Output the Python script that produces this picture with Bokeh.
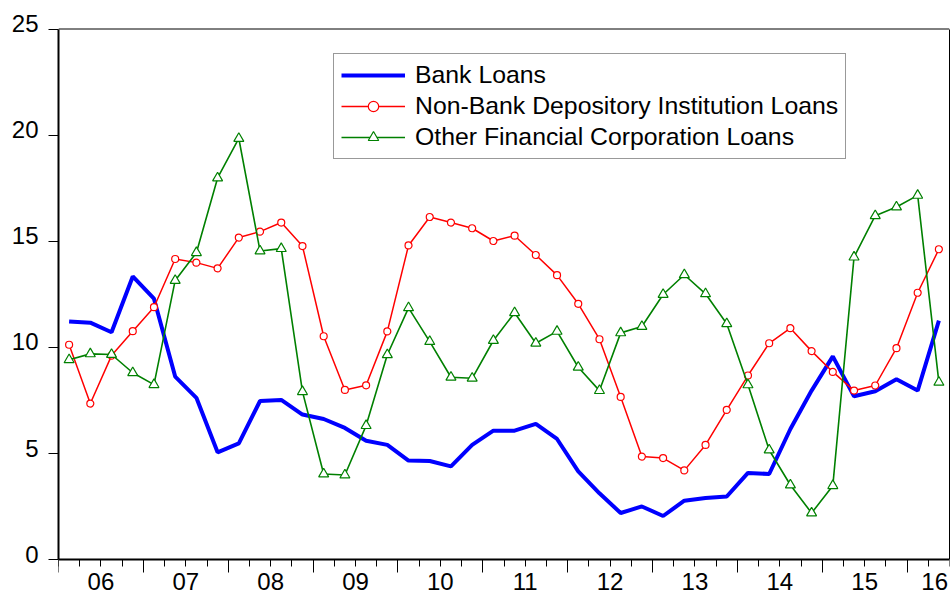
import numpy as np
from bokeh.plotting import figure
from bokeh.models import Range1d, FixedTicker, Legend, LegendItem, LinearAxis, Span
from bokeh.core.properties import value
from bokeh.embed import file_html
from bokeh.resources import INLINE

# ---- data (quarterly, 2006Q1 - 2016Q2) ----
years = list(range(2006, 2017))
quarters = [f"{y}Q{q}" for y in years for q in range(1, 5)][:42]

bank_loans = [11.22, 11.16, 10.71, 13.34,
              12.29, 8.62, 7.62, 5.05,
              5.47, 7.47, 7.52, 6.83,
              6.62, 6.20, 5.60, 5.40,
              4.66, 4.64, 4.39, 5.40,
              6.07, 6.07, 6.39, 5.68,
              4.15, 3.12, 2.19, 2.50,
              2.05, 2.77, 2.90, 2.97,
              4.08, 4.03, 6.15, 7.96,
              9.57, 7.69, 7.93, 8.49,
              7.96, 11.26]

nonbank_loans = [10.12, 7.35, 9.61, 10.76,
                 11.89, 14.16, 13.99, 13.72,
                 15.17, 15.45, 15.88, 14.77,
                 10.52, 7.99, 8.21, 10.75,
                 14.80, 16.14, 15.88, 15.61,
                 15.01, 15.26, 14.35, 13.40,
                 12.05, 10.38, 7.66, 4.85,
                 4.78, 4.20, 5.40, 7.05,
                 8.67, 10.19, 10.90, 9.82,
                 8.84, 7.96, 8.20, 9.96,
                 12.57, 14.62]

other_fin_loans = [9.41, 9.69, 9.66, 8.80,
                   8.24, 13.15, 14.46, 17.98,
                   19.84, 14.54, 14.65, 7.91,
                   4.03, 3.98, 6.31, 9.65,
                   11.86, 10.27, 8.59, 8.54,
                   10.32, 11.63, 10.19, 10.75,
                   9.06, 7.96, 10.68, 10.98,
                   12.49, 13.42, 12.52, 11.11,
                   8.23, 5.16, 3.51, 2.19,
                   3.48, 14.25, 16.20, 16.61,
                   17.16, 8.35]

year_labels = ["06", "07", "08", "09", "10", "11", "12", "13", "14", "15", "16"]
y_ticks = [0, 5, 10, 15, 20, 25]

n = len(quarters)
x = np.arange(n) + 0.5
Y_MAX = 25

FONT = "Liberation Sans"
FS = "24px"

# ---- layout: the plotting canvas spans the full height; the chart box (0..25)
# sits inside it so tick labels can be placed freely around the box ----
W, H = 951, 596
BOX_TOP, BOX_BOTTOM = 28.5, 559.0          # pixel rows of the box edges
px_per_unit = (BOX_BOTTOM - BOX_TOP) / Y_MAX
y_lo = -(H - BOX_BOTTOM) / px_per_unit
y_hi = Y_MAX + BOX_TOP / px_per_unit

p = figure(width=W, height=H, x_range=Range1d(0, n), y_range=Range1d(y_lo, y_hi),
           output_backend="svg", toolbar_location=None,
           min_border_left=58, min_border_right=2, min_border_top=0,
           min_border_bottom=0)
p.title = None
p.background_fill_color = "white"
p.border_fill_color = "white"
p.outline_line_color = None
p.xgrid.grid_line_color = None
p.ygrid.grid_line_color = None

# x axis drawn at y = 0: long ticks at year boundaries, short ticks at quarters
year_bounds = list(range(0, n + 1, 4))
xa = p.xaxis[0]
xa.fixed_location = 0
xa.ticker = FixedTicker(ticks=year_bounds, minor_ticks=list(range(0, n + 1)))
xa.major_tick_out = 13
xa.major_tick_in = 0
xa.minor_tick_out = 7
xa.minor_tick_in = 0
xa.major_tick_line_color = "black"
xa.minor_tick_line_color = "black"
xa.axis_line_color = "black"
xa.axis_line_width = 2
xa.major_label_overrides = {t: "" for t in year_bounds}
xa.major_label_text_font_size = "0px"
xa.major_label_standoff = 0

# y axis: line and tick marks, limited to the box
ya = p.yaxis[0]
ya.bounds = (0, Y_MAX)
ya.ticker = FixedTicker(ticks=y_ticks, minor_ticks=[])
ya.major_tick_out = 10
ya.major_tick_in = 0
ya.major_tick_line_color = "black"
ya.axis_line_color = "black"
ya.axis_line_width = 2
ya.major_label_overrides = {t: "" for t in y_ticks}
ya.major_label_text_font_size = "0px"
ya.major_label_standoff = 0

# y tick labels sit slightly above their ticks, as in the original
shift = 0.25
lab_pos = [t + shift for t in y_ticks]
ya2 = LinearAxis(ticker=FixedTicker(ticks=lab_pos, minor_ticks=[]),
                 major_label_overrides={lp: str(t) for lp, t in zip(lab_pos, y_ticks)},
                 major_tick_out=0, major_tick_in=0, minor_tick_out=0, minor_tick_in=0,
                 axis_line_color=None, major_tick_line_color=None,
                 major_label_text_font=FONT, major_label_text_font_size=FS,
                 major_label_text_color="black", major_label_standoff=10)
p.add_layout(ya2, "left")

# right and top edges of the box
ra = LinearAxis(bounds=(0, Y_MAX), ticker=FixedTicker(ticks=[], minor_ticks=[]),
                axis_line_color="black", axis_line_width=1,
                major_tick_out=0, major_tick_in=0, minor_tick_out=0, minor_tick_in=0,
                major_label_text_font_size="0px", major_label_standoff=0)
p.add_layout(ra, "right")
p.add_layout(Span(location=Y_MAX, dimension="width", line_color="black", line_width=1))

r_bank = p.line(x, bank_loans, line_color="#0000FF", line_width=4)
r_nb_l = p.line(x, nonbank_loans, line_color="#FF0000", line_width=1.5)
r_nb_p = p.scatter(x, nonbank_loans, marker="circle", size=7, fill_color="white",
                   line_color="#FF0000", line_width=1.2)
r_of_l = p.line(x, other_fin_loans, line_color="#008000", line_width=1.6)
r_of_p = p.scatter(x, other_fin_loans, marker="triangle", size=10, fill_color="white",
                   line_color="#008000", line_width=1.2)

# year labels centred in each year, below the box
mids = [min(4 * i + 2, n - 0.7) for i in range(len(year_labels))]
p.text(x=mids, y=[0] * len(mids), text=year_labels, text_align="center",
       text_baseline="top", y_offset=13, text_font=value(FONT), text_font_size=FS,
       text_color="black")

legend = Legend(items=[
    LegendItem(label="Bank Loans", renderers=[r_bank]),
    LegendItem(label="Non-Bank Depository Institution Loans", renderers=[r_nb_l, r_nb_p]),
    LegendItem(label="Other Financial Corporation Loans", renderers=[r_of_l, r_of_p]),
], location=(275, H - 159))
legend.label_text_font = FONT
legend.label_text_font_size = "24.8px"
legend.label_text_color = "black"
legend.glyph_width = 64
legend.glyph_height = 26
legend.label_height = 26
legend.label_standoff = 10
legend.padding = 7
legend.spacing = 3
legend.margin = 0
legend.border_line_color = "#333333"
legend.border_line_width = 1.5
legend.background_fill_color = "white"
legend.background_fill_alpha = 1
p.add_layout(legend)

open("out.html", "w").write(file_html(p, INLINE))
